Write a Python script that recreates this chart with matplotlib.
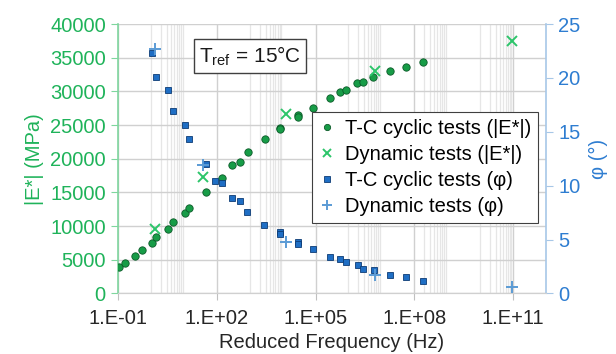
import numpy as np
import matplotlib.pyplot as plt
from matplotlib.ticker import FixedLocator, FixedFormatter, NullFormatter

plt.rcParams['font.family'] = ['Liberation Sans', 'DejaVu Sans']
plt.rcParams['mathtext.fontset'] = 'custom'
plt.rcParams['mathtext.rm'] = 'Liberation Sans'

# T-C cyclic tests - |E*| (MPa) vs reduced frequency (Hz)
tc_freq_E = [0.107, 0.155, 0.324, 0.513, 1.05, 1.41, 3.16, 4.68, 10.7, 13.8,
             46.8, 141, 282, 490, 851, 2880, 8510, 8510, 28800, 28800,
             81300, 2.75e5, 5.62e5, 8.51e5, 1.86e6, 2.82e6, 5.75e6, 1.86e7,
             5.62e7, 1.91e8]
tc_E = [3930, 4550, 5490, 6510, 7460, 8400, 9550, 10610, 12020, 12690,
        15090, 17210, 19040, 19490, 20940, 22990, 24570, 24370, 26460, 26210,
        27610, 29000, 29940, 30150, 31190, 31340, 32130, 32980, 33580, 34330]

# T-C cyclic tests - phase angle (deg)
tc_freq_phi = [1.06, 1.43, 3.18, 4.71, 10.9, 14.2, 47.5, 84.5, 143, 282,
               486, 841, 2750, 8510, 8510, 28200, 28200, 83200, 2.75e5,
               5.62e5, 8.51e5, 1.91e6, 2.82e6, 5.89e6, 1.88e7, 5.62e7, 1.91e8]
tc_phi = [22.32, 20.06, 18.90, 16.91, 15.61, 14.37, 12.01, 10.48, 10.26, 8.82,
          8.58, 7.52, 6.37, 5.74, 5.50, 4.81, 4.62, 4.10, 3.40,
          3.22, 2.89, 2.61, 2.31, 2.19, 1.75, 1.49, 1.12]

# Dynamic tests
dyn_freq = [1.31, 38.9, 12900, 6.31e6, 9.55e10]
dyn_E = [9550, 17280, 26720, 33070, 37460]
dyn_phi = [22.65, 11.90, 4.76, 1.71, 0.56]

xticks = [1e-1, 1e2, 1e5, 1e8, 1e11]
xtick_labels = ['1.E-01', '1.E+02', '1.E+05', '1.E+08', '1.E+11']
e_ticks = [0, 5000, 10000, 15000, 20000, 25000, 30000, 35000, 40000]
phi_ticks = [0, 5, 10, 15, 20, 25]

green = '#1fb35a'
blue = '#2e7dd1'

fig = plt.figure(figsize=(6.16, 3.54), dpi=100)
ax = fig.add_axes([0.192, 0.171, 0.694, 0.761])
ax2 = ax.twinx()

ax.set_xscale('log')
ax.set_xlim(1e-1, 1e12)
ax.set_ylim(0, 40000)
ax2.set_ylim(0, 25)

# gridlines (minor positions as in the original spreadsheet chart)
minor_pos = [k * 10.0 ** (e + 1) for e in (-1, 2, 5) for k in range(1, 10)]
minor_pos += [k * 1e8 for k in range(2, 10)] + [k * 1e10 for k in range(1, 10)]
ax.xaxis.set_major_locator(FixedLocator(xticks))
ax.xaxis.set_major_formatter(FixedFormatter(xtick_labels))
ax.xaxis.set_minor_locator(FixedLocator(minor_pos))
ax.xaxis.set_minor_formatter(NullFormatter())
ax.grid(axis='x', which='minor', color='#e6e6e6', lw=0.9)
ax.grid(axis='x', which='major', color='#d0d0d0', lw=1.0)
ax.grid(axis='y', which='major', color='#d0d0d0', lw=1.0)
ax.set_axisbelow(True)

ax.set_yticks(e_ticks)
ax2.set_yticks(phi_ticks)

ax.plot(tc_freq_E, tc_E, 'o', ms=5.3, mfc='#179c47', mec='#0b5a28', mew=0.6,
        label='T-C cyclic tests (|E*|)', zorder=3)
ax.plot(dyn_freq, dyn_E, 'x', ms=6.5, color='#2cc56a', mew=1.4,
        label='Dynamic tests (|E*|)', zorder=3)
ax2.plot(tc_freq_phi, tc_phi, 's', ms=4.8, mfc='#1f6ec4', mec='#0d3c75', mew=0.6,
         label='T-C cyclic tests (φ)', zorder=3)
ax2.plot(dyn_freq, dyn_phi, '+', ms=8, color='#5b9bd5', mew=1.4,
         label='Dynamic tests (φ)', zorder=3)

# spines and ticks
for a in (ax, ax2):
    a.spines['top'].set_visible(False)
    a.spines['bottom'].set_color('#d0d0d0')
ax.spines['right'].set_visible(False)
ax2.spines['left'].set_visible(False)
ax.spines['left'].set_color('#7fd69e')
ax2.spines['right'].set_color('#a7c7e7')
ax.spines['left'].set_linewidth(1.2)
ax2.spines['right'].set_linewidth(1.2)

ax.tick_params(axis='x', which='major', length=5, color='#c0c0c0', pad=6,
               labelsize=14.5, labelcolor='#262626')
ax.tick_params(axis='x', which='minor', length=0)
ax.tick_params(axis='y', length=5, color='#7fd69e', labelsize=14.5,
               labelcolor=green, pad=4)
ax2.tick_params(axis='y', length=5, color='#a7c7e7', labelsize=14.5,
                labelcolor=blue, pad=4)

ax.set_xlabel('Reduced Frequency (Hz)', fontsize=14.5, color='#262626',
              labelpad=4)
ax.set_ylabel('|E*| (MPa)', fontsize=14.5, color=green, labelpad=4)
ax2.set_ylabel('φ (°)', fontsize=14.5, color=blue, labelpad=6)

ax.text(0.308, 0.881, r'T$_{\mathrm{ref}}$ = 15°C', transform=ax.transAxes,
        fontsize=15, ha='center', va='center', color='#1a1a1a', zorder=5,
        bbox=dict(boxstyle='square,pad=0.25', fc='white', ec='#404040', lw=1))

h1, l1 = ax.get_legend_handles_labels()
h2, l2 = ax2.get_legend_handles_labels()
leg = ax2.legend(h1 + h2, l1 + l2, loc='upper right',
                 bbox_to_anchor=(0.982, 0.673), fontsize=14.5, frameon=True,
                 fancybox=False, edgecolor='#404040', framealpha=1,
                 handlelength=0.8, handletextpad=0.5, labelspacing=0.35,
                 borderpad=0.35, borderaxespad=0, markerscale=0.85)
leg.get_frame().set_linewidth(0.8)

fig.savefig('out.png', dpi=100)
